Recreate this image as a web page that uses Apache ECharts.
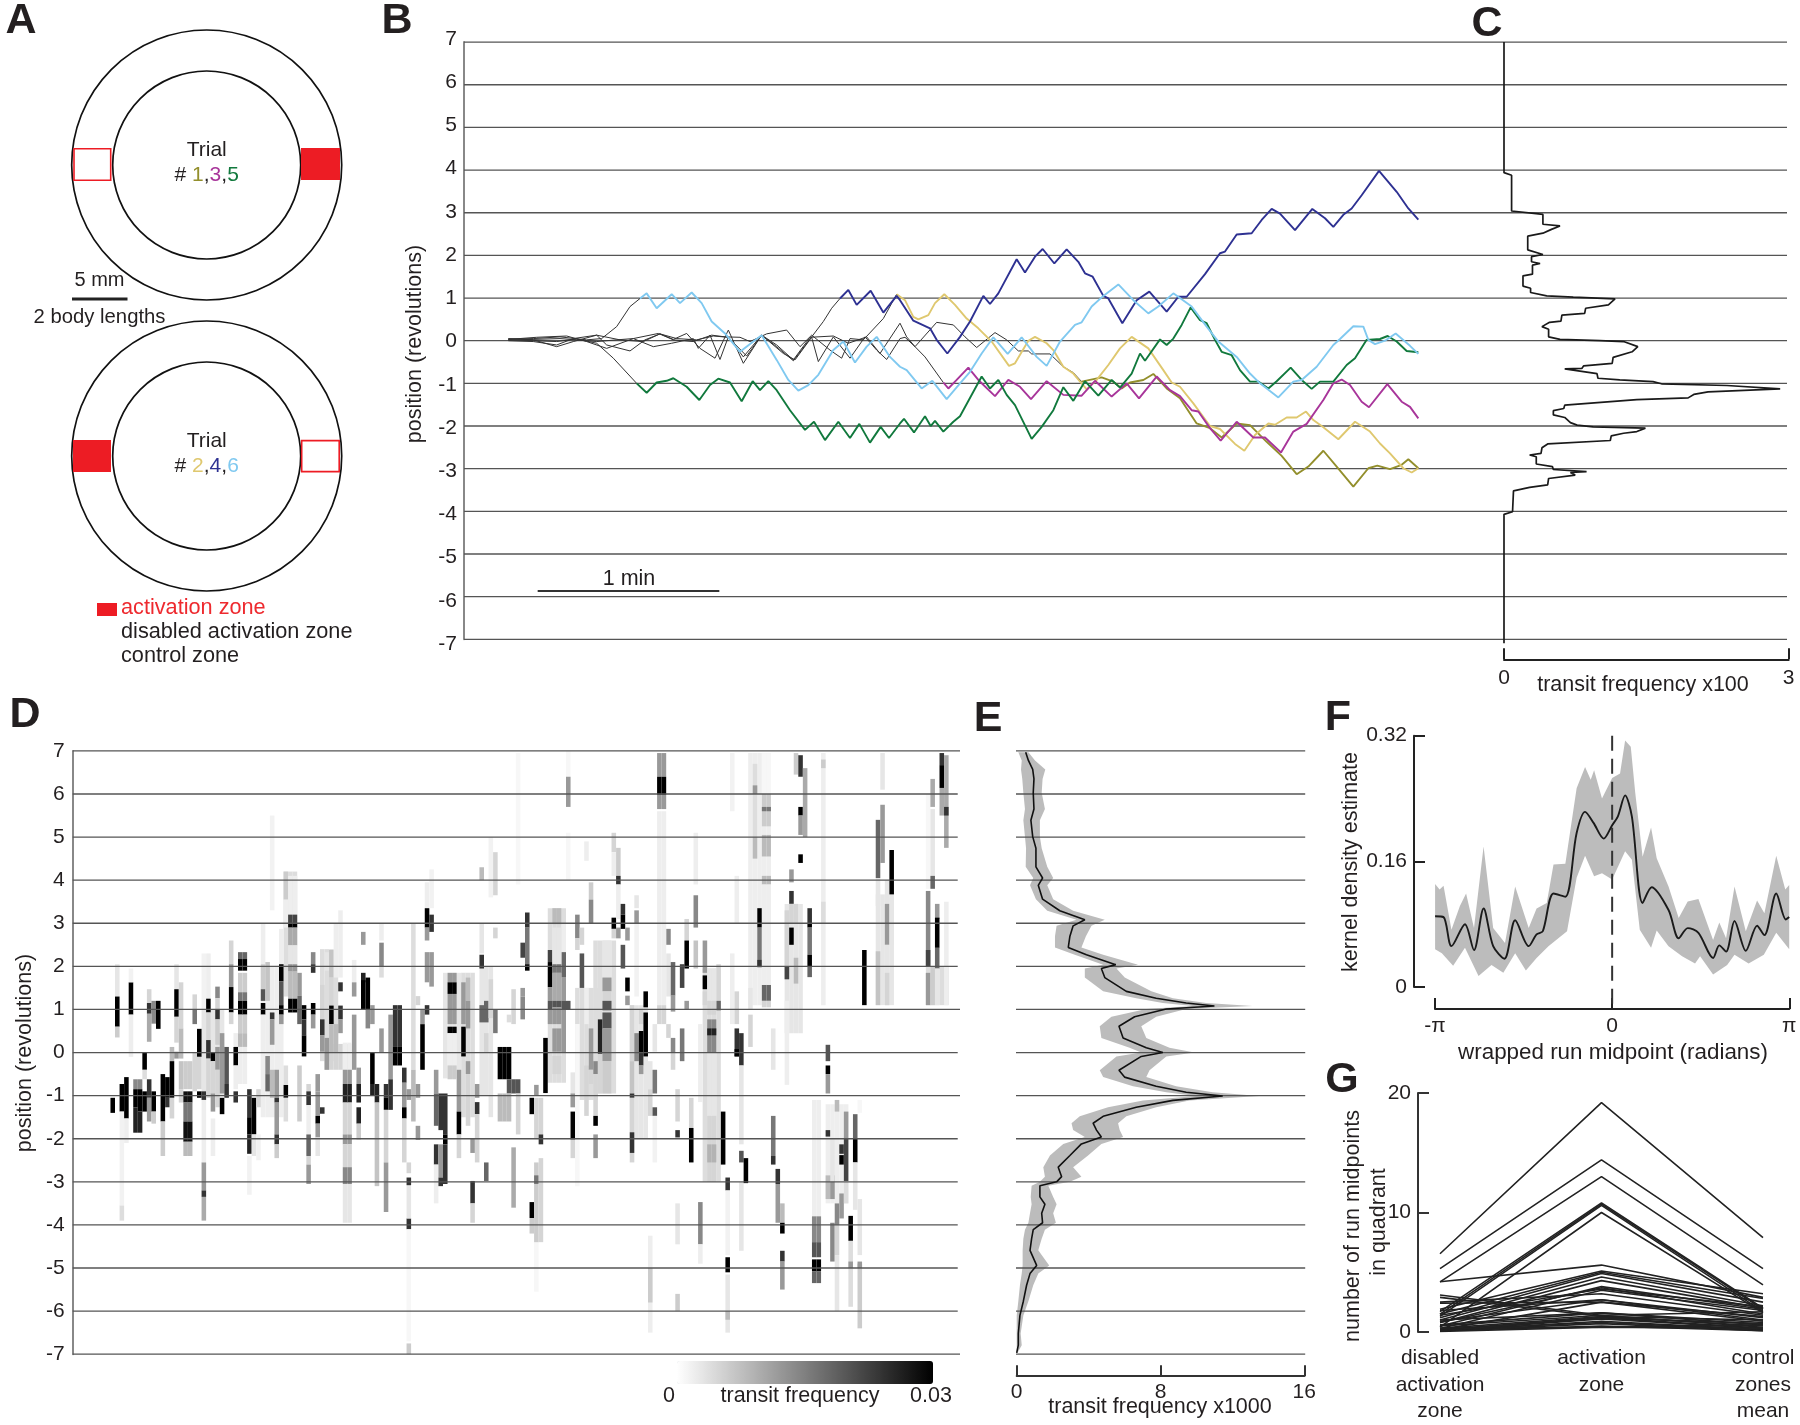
<!DOCTYPE html>
<html><head><meta charset="utf-8">
<style>html,body{margin:0;padding:0;background:#fff}#c{width:1800px;height:1425px}</style>
<script src="https://cdn.jsdelivr.net/npm/echarts@6/dist/echarts.min.js"></script>
</head><body><div id="c"></div>
<script>
// Panel B: time in recording samples (545 samples = 1 min), position in revolutions
const revTicks=[7,6,5,4,3,2,1,0,-1,-2,-3,-4,-5,-6,-7];
const scaleBar=[[89,-5.87],[634,-5.87]];
const trial1Lead=[[1,0],[76,-.02],[146,-.1],[196,.05],[266,.13],[336,.02],[406,-.02],[456,.16],[506,.05],[566,.02],[616,.11],[661,.08],[716,-.36],[761,.13],[806,-.1],[856,-.45],[906,.08],[976,.11],[1021,-.06],[1076,.09],[1116,-.3],[1176,.41],[1196,.09],[1221,-.14],[1286,.43],[1336,.37],[1371,.09],[1406,-.16],[1461,.19],[1496,.02],[1531,-.24],[1561,-.24],[1571,-.31],[1626,-.31],[1666,-.61],[1696,-.75],[1721,-.96]];
const trial1=[[1781,-.86],[1816,-.96],[1841,-1.12],[1866,-.98],[1906,-.92],[1936,-.78],[1976,-1.12],[2016,-1.35],[2066,-1.94],[2106,-2.05],[2141,-2.27],[2186,-1.94],[2226,-1.98],[2276,-2.37],[2321,-2.7],[2366,-3.13],[2401,-2.95],[2446,-2.58],[2486,-2.95],[2536,-3.42],[2581,-2.99],[2608,-2.93],[2646,-3.01],[2681,-2.91],[2701,-2.78],[2731,-2.99]];
const trial2Lead=[[1,.03],[86,.08],[176,.11],[236,-.02],[296,-.18],[376,.05],[451,.17],[496,.02],[556,-.02],[611,.13],[651,.09],[696,.08],[726,-.02],[776,.16],[836,.25],[876,-.14],[911,.13],[966,-.22],[1001,-.41],[1026,.05],[1066,.02],[1126,.52],[1166,1.09]];
const trial2=[[1191,.95],[1216,.56],[1231,.5],[1261,.6],[1281,.88],[1309,1.09],[1341,.84],[1376,.52],[1411,.29],[1451,-.02],[1503,-.59],[1521,-.53],[1561,0],[1581,.09],[1616,-.06],[1636,-.22],[1666,-.61],[1696,-.77],[1736,-1.14],[1766,-.92],[1801,-.57],[1836,-.18],[1871,.09],[1921,-.18],[1966,-.69],[1991,-.98],[2016,-1.08],[2056,-1.47],[2106,-2],[2136,-2.07],[2181,-2.42],[2209,-2.58],[2241,-2.21],[2281,-1.94],[2301,-1.97],[2336,-1.8],[2366,-1.8],[2394,-1.66],[2416,-1.86],[2446,-2.03],[2491,-2.31],[2541,-1.9],[2586,-2.13],[2616,-2.41],[2646,-2.64],[2686,-2.99],[2711,-3.09],[2731,-2.99]];
const trial3Lead=[[1,.02],[76,.03],[156,.05],[206,.02],[266,-.02],[326,.02],[376,.05],[436,-.14],[491,-.06],[556,.05],[571,-.18],[606,.13],[636,-.44],[661,.09],[706,-.38],[761,.13],[826,-.3],[861,-.45],[911,.08],[931,-.49],[976,.09],[1026,-.41],[1071,.09],[1106,-.22],[1136,-.44],[1176,.05],[1191,.08],[1221,-.14],[1251,-.38],[1306,-.98]];
const trial3=[[1321,-1.12],[1346,-.92],[1381,-.63],[1411,-.92],[1461,-1.3],[1501,-.92],[1536,-1.08],[1569,-1.37],[1616,-.95],[1666,-1.27],[1721,-1.29],[1761,-.94],[1811,-1.31],[1856,-1],[1893,-1.35],[1946,-.84],[1986,-1.16],[2016,-1.3],[2051,-1.63],[2071,-1.66],[2106,-2.05],[2138,-2.34],[2186,-1.9],[2236,-2.27],[2271,-2.27],[2319,-2.62],[2356,-2.13],[2396,-1.95],[2446,-1.39],[2476,-1],[2501,-.91],[2526,-1.04],[2561,-1.43],[2583,-1.56],[2638,-1.02],[2681,-1.43],[2706,-1.55],[2731,-1.82]];
const trial4Lead=[[1,.05],[76,.02],[146,-.14],[196,-.02],[266,.13],[296,-.1],[366,-.24],[411,.02],[456,.16],[496,.03],[536,.17],[576,-.18],[621,-.41],[661,.25],[706,-.53],[761,.13],[806,-.14],[856,-.47],[911,.09],[946,.45],[971,.76],[996,.99]];
const trial4=[[1021,1.19],[1046,.84],[1088,1.17],[1126,.66],[1166,1.05],[1176,.95],[1216,.47],[1266,.29],[1286,.02],[1318,-.3],[1356,.09],[1386,.45],[1426,1.05],[1446,.86],[1471,1.11],[1526,1.91],[1551,1.6],[1581,1.97],[1604,2.15],[1639,1.81],[1676,2.14],[1711,1.85],[1731,1.58],[1754,1.5],[1786,1.05],[1801,.99],[1843,.41],[1886,.95],[1924,1.15],[1976,.68],[2011,1.03],[2036,1.03],[2091,1.56],[2136,2.05],[2151,2.09],[2186,2.49],[2231,2.52],[2261,2.83],[2291,3.09],[2316,2.98],[2361,2.59],[2413,3.09],[2451,2.87],[2476,2.67],[2506,2.95],[2531,3.1],[2561,3.41],[2613,3.98],[2666,3.49],[2701,3.1],[2731,2.84]];
const trial5Lead=[[1,.02],[76,0],[146,-.02],[206,.04],[266,-.06],[316,-.41],[386,-1]];
const trial5=[[416,-1.22],[446,-.98],[476,-.94],[496,-.88],[536,-1.08],[574,-1.39],[606,-1.04],[631,-.89],[666,-.98],[701,-1.42],[734,-.95],[756,-1.16],[781,-.95],[806,-1.16],[846,-1.63],[891,-2.09],[918,-1.9],[951,-2.33],[991,-1.9],[1026,-2.28],[1054,-1.95],[1086,-2.39],[1118,-2.02],[1143,-2.28],[1176,-1.94],[1188,-1.83],[1218,-2.15],[1251,-1.77],[1268,-2],[1281,-1.88],[1306,-2.13],[1336,-1.9],[1356,-1.77],[1421,-.84],[1446,-1.12],[1471,-.92],[1496,-1.27],[1521,-1.51],[1571,-2.3],[1601,-2.02],[1636,-1.63],[1666,-1.09],[1696,-1.41],[1731,-.95],[1771,-1.29],[1811,-.92],[1836,-1.1],[1871,-.77],[1896,-.3],[1911,-.47],[1956,.03],[1976,-.1],[1996,.05],[2021,.37],[2048,.78],[2076,.48],[2096,.41],[2121,.02],[2141,-.26],[2171,-.34],[2196,-.69],[2226,-.96],[2251,-.96],[2281,-1.12],[2306,-.95],[2348,-.63],[2381,-.92],[2411,-1.13],[2436,-.96],[2476,-.96],[2516,-.57],[2541,-.41],[2576,.02],[2616,.04],[2639,.11],[2666,-.02],[2696,-.24],[2731,-.27]];
const trial6Lead=[[1,.04],[76,.05],[156,.09],[236,.02],[281,.05],[326,.33],[366,.8],[396,.99]];
const trial6=[[416,1.11],[446,.76],[491,1.09],[516,.88],[551,1.13],[581,.88],[611,.45],[651,.17],[696,-.26],[736,-.02],[761,.13],[806,-.45],[841,-.92],[871,-1.17],[901,-1.04],[931,-.8],[976,-.22],[1006,-.02],[1041,-.51],[1076,-.14],[1106,.09],[1146,-.38],[1176,-.61],[1196,-.69],[1241,-1.12],[1273,-.94],[1316,-1.37],[1356,-1],[1386,-.73],[1421,-.3],[1456,.08],[1499,-.31],[1541,.08],[1586,-.38],[1616,-.59],[1656,-.02],[1701,.37],[1721,.43],[1751,.8],[1786,1.05],[1831,1.32],[1876,.95],[1921,.64],[1951,.8],[1996,1.11],[2051,.8],[2096,.33],[2131,-.02],[2186,-.38],[2226,-.77],[2256,-1],[2311,-1.33],[2356,-.96],[2381,-.92],[2426,-.61],[2476,-.1],[2496,.04],[2536,.34],[2566,.33],[2581,.02],[2601,-.08],[2631,0],[2663,.17],[2706,-.12],[2731,-.31]];
// Panel C: transit frequency x100 against position
const transitC=[[0,7],[0,3.94],[.08,3.88],[.08,3.04],[.41,2.96],[.41,2.73],[.59,2.69],[.5,2.61],[.41,2.52],[.25,2.45],[.25,2.13],[.41,2.02],[.29,1.97],[.29,1.85],[.38,1.81],[.3,1.77],[.3,1.56],[.2,1.52],[.2,1.28],[.28,1.23],[.28,1.13],[.45,1.05],[.73,1.02],[1.17,.98],[1.1,.84],[.86,.76],[.85,.64],[.61,.6],[.6,.46],[.48,.43],[.47,.39],[.4,.33],[.47,.27],[.47,.09],[.59,.03],[1.01,0],[1.26,-.02],[1.41,-.14],[1.35,-.26],[1.15,-.39],[1.14,-.53],[.84,-.59],[.82,-.65],[.64,-.66],[.98,-.77],[.99,-.88],[1.22,-.92],[1.57,-.96],[1.66,-1.01],[2.35,-1.05],[2.91,-1.13],[2.15,-1.2],[2,-1.26],[1.94,-1.34],[1.4,-1.38],[.64,-1.51],[.63,-1.59],[.52,-1.64],[.52,-1.74],[.64,-1.8],[.7,-1.92],[.77,-1.98],[.94,-2.02],[1.49,-2.05],[1.4,-2.13],[1.26,-2.17],[1.13,-2.23],[1.12,-2.34],[.46,-2.42],[.4,-2.51],[.39,-2.64],[.27,-2.68],[.34,-2.72],[.34,-2.89],[.51,-2.95],[.52,-3.02],[.87,-3.07],[.7,-3.09],[.75,-3.15],[.47,-3.23],[.46,-3.38],[.27,-3.44],[.27,-3.48],[.1,-3.52],[.09,-4.01],[0,-4.07],[0,-7.09]];
// Panel D: pale backgrounds [first column, last column, position low, position high, transit frequency]
const paleBlocks=[[55,58,-.2,2.4,.004],[56,61,-.4,.2,.005],[47,49,1.3,4.2,.004],[82,85,-.6,1.85,.003],[86,88,-1.5,1.85,.004],[90,92,-1,2,.003],[105,108,-.7,3.35,.004],[111,115,-1.1,1.5,.004],[115,119,-.95,2.6,.004],[123,126,-2,1.1,.003],[139,142,-3,1.95,.004],[157,160,.45,3.45,.003],[149,153,1.1,6.95,.002],[166,170,-3.5,-1.2,.002],[177,180,1.1,3.67,.003],[188,192,1.1,2,.004],[29,33,-1,1,.003],[42,46,-1.5,2,.002]];
// Panel D: [fly column, position low, position high, transit frequency]
const heatCells=[[9,-1.4,-1.05,.03],[10,1.3,2.05,.003],[10,.6,1.3,.03],[10,.35,.6,.006],[11,-1.37,-.73,.03],[11,-3.55,-1.37,.0015],[11,-3.9,-3.55,.004],[12,-1.53,-.57,.03],[12,-2.1,-1.53,.002],[13,.88,1.63,.03],[13,-.1,.88,.002],[13,1.63,1.95,.0015],[14,-.85,-.62,.014],[14,-1.27,-.85,.03],[14,-1.86,-1.27,.026],[15,-.85,-.62,.014],[15,-1.37,-.85,.03],[15,-1.86,-1.37,.026],[16,-.4,0,.03],[16,-.62,-.4,.004],[16,-1.37,-.9,.03],[17,1.15,1.47,.005],[17,.9,1.15,.024],[17,.25,.9,.01],[17,-1.05,-.62,.024],[17,-1.6,-1.05,.012],[18,.67,1.2,.014],[18,-1.37,-.9,.03],[18,-1.65,-1.37,.006],[19,.55,1.2,.03],[20,-1.6,-.5,.03],[20,-2.4,-1.6,.006],[21,-1.05,-.57,.03],[21,-1.27,-1.05,.024],[22,-.2,.13,.008],[22,-1.05,-.2,.03],[22,-1.53,-1.05,.005],[23,1.47,2.05,.003],[23,.83,1.47,.03],[23,.23,.83,.005],[23,-.14,.02,.012],[24,.56,1.63,.005],[24,-.14,.56,.008],[24,-.85,-.2,.007],[24,-1.16,-.85,.005],[25,-.85,-.2,.006],[25,-1.16,-.9,.028],[25,-1.6,-1.16,.016],[25,-2.07,-1.6,.028],[25,-2.4,-2.07,.008],[27,1,1.35,.005],[27,.66,1,.016],[27,-.9,0,.005],[28,-.1,.55,.03],[28,-.85,-.1,.005],[28,-1.05,-.9,.03],[29,1,2.3,.0015],[29,-1.1,-.9,.024],[29,-2.55,-1.1,.002],[29,-3.2,-2.55,.012],[29,-3.35,-3.2,.024],[29,-3.9,-3.35,.01],[30,1.25,2.3,.002],[30,.93,1.25,.03],[30,.29,.93,.005],[30,-.14,.29,.024],[30,-1.05,-.14,.005],[31,-.2,0,.03],[31,-.95,-.2,.005],[31,-1.37,-.95,.012],[31,-2.4,-1.53,.002],[32,1.26,1.53,.014],[32,1,1.26,.005],[32,.77,1,.024],[32,.18,.77,.006],[32,-.4,.13,.012],[32,-1.27,-.4,.005],[33,-.95,.45,.012],[33,-1.43,-1.05,.03],[34,-.73,.13,.02],[34,-1.05,-.73,.024],[35,2.05,2.6,.005],[35,1.52,2.05,.012],[35,.93,1.52,.03],[35,.66,.93,.005],[36,.13,.45,.002],[36,-.3,.13,.03],[36,-.85,-.3,.002],[36,-1.16,-.9,.024],[37,2.17,2.33,.018],[37,1.9,2.17,.03],[37,1.4,1.85,.006],[37,1.2,1.4,.016],[37,.88,1.2,.03],[37,.45,.88,.006],[37,.13,.45,.008],[37,-.73,.13,.002],[39,-1,-.85,.024],[39,-1.5,-1,.024],[39,-1.9,-1.5,.03],[39,-2.35,-1.9,.026],[39,-3.3,-2.4,.0015],[40,-1.9,-1.05,.03],[40,-2.4,-1.9,.003],[41,-1.27,-.85,.005],[41,-2.5,-1.9,.0015],[42,2.05,3,.002],[42,1.47,2.05,.006],[42,1.2,1.47,.02],[42,.88,1.15,.03],[42,-.4,.88,.002],[43,1.2,2.1,.007],[43,-.5,-.08,.014],[43,-.9,-.5,.018],[44,3.3,5.5,.0015],[44,.77,.93,.024],[44,.18,.77,.012],[44,-1.05,-.4,.008],[45,-1.05,-.4,.012],[45,-1.16,-1.05,.024],[45,-1.9,-1.16,.012],[45,-2.13,-1.9,.024],[45,-2.45,-2.13,.006],[46,2.05,2.87,.002],[46,1.65,2.05,.03],[46,1.1,1.65,.02],[46,.88,1.1,.03],[46,.66,.88,.012],[47,3.55,4.2,.006],[47,2.9,3.55,.002],[47,-1.05,-.75,.03],[47,-.75,-.3,.004],[47,-1.6,-1.05,.004],[48,3.2,4.1,.002],[48,3,3.2,.022],[48,2.9,3,.03],[48,2.49,2.9,.01],[48,2.05,2.49,.003],[48,1.88,2.05,.012],[48,1.25,1.88,.008],[48,.93,1.25,.03],[50,1.32,1.85,.012],[50,.66,1.32,.018],[50,-1.6,-.3,.006],[51,.77,1.1,.03],[51,.4,.77,.024],[51,-.09,.4,.03],[52,-.9,-.73,.005],[52,-1.22,-.9,.024],[52,-1.9,-1.22,.002],[52,-2.4,-1.9,.018],[52,-2.6,-2.4,.005],[52,-3.05,-2.6,.012],[53,2.05,2.33,.014],[53,1.85,2.05,.024],[53,.88,1.15,.03],[53,.56,.88,.012],[54,-.9,-.5,.012],[54,-1.47,-.9,.012],[54,-1.65,-1.47,.03],[54,-1.97,-1.65,.012],[54,-2.4,-1.97,.003],[55,.77,1.57,.005],[55,.4,.77,.024],[55,.02,.4,.012],[55,-1.42,-1.27,.024],[56,1.9,2.33,.003],[56,-.4,.34,.012],[57,1.74,2.38,.007],[57,1.09,1.74,.005],[57,.66,1.09,.03],[57,0,.66,.008],[58,1.74,3,.002],[58,0,.66,.008],[59,1.74,3.3,.002],[59,1.42,1.63,.024],[59,.77,1.09,.024],[59,.45,.77,.012],[60,-.4,.23,.002],[60,-.73,-.4,.012],[60,-1.16,-.73,.026],[60,-1.9,-1.16,.005],[60,-2.13,-1.9,.012],[60,-2.66,-2.13,.005],[60,-3.05,-2.66,.014],[60,-3.95,-3.05,.003],[62,1.63,2.15,.002],[62,1.3,1.63,.012],[62,-.4,.88,.012],[63,-.73,-.35,.012],[63,-1.16,-.73,.026],[63,-1.65,-1.27,.026],[63,-2.02,-1.65,.006],[64,2.5,2.8,.012],[64,1.63,1.85,.026],[64,1,1.68,.03],[65,1,1.74,.03],[65,.56,1,.014],[66,.66,1.1,.012],[66,-.73,0,.03],[66,-1,-.73,.026],[67,-1.16,-.73,.026],[67,-3.1,-1.16,.007],[68,2.6,3,.002],[68,2,2.55,.014],[68,1.74,2,.004],[68,0,.56,.012],[69,-1.05,-.73,.024],[69,-1.33,-1.05,.03],[69,-2.55,-1.33,.005],[69,-3.7,-2.55,.012],[70,-.62,.88,.012],[70,-1.33,-.62,.024],[71,.13,1.1,.024],[71,-.3,.13,.03],[73,-.7,-.35,.024],[73,-1.27,-.7,.012],[73,-1.53,-1.27,.03],[73,-2.55,-1.53,.005],[74,-1.1,-.85,.012],[74,-2.8,-2.55,.005],[74,-3.08,-2.9,.024],[74,-4.1,-3.85,.024],[74,-6.7,-4.1,.001],[74,-7,-6.75,.006],[74,-3.85,-3.1,.003],[75,-.4,3,.004],[75,-1.6,-.4,.008],[76,1.1,1.31,.005],[76,-1.05,-.73,.012],[76,-2.03,-1.7,.012],[77,-.4,.66,.03],[77,.66,1,.012],[78,3.35,3.95,.002],[78,2.9,3.35,.03],[78,2.6,2.9,.012],[78,1.63,2.33,.012],[78,.88,1.1,.024],[79,3.35,4.25,.0015],[79,2.8,3.2,.024],[79,1.53,2.33,.012],[80,-.95,-.4,.012],[80,-1.7,-.95,.018],[80,-2.6,-2.13,.024],[80,-3.5,-2.6,.002],[81,-1.8,-.95,.024],[81,-2.9,-2.13,.012],[81,-3.1,-2.9,.024],[82,-1.9,-.95,.024],[82,-2.13,-1.9,.03],[82,-3.05,-2.13,.024],[83,1.63,1.85,.012],[83,1.36,1.63,.03],[83,.66,1.36,.012],[83,.45,.6,.03],[83,-.3,.45,.002],[83,-.62,-.3,.006],[85,-1.37,-.4,.012],[85,-1.9,-1.37,.03],[85,-2.45,-1.9,.005],[86,.66,1.63,.012],[86,-.09,.6,.03],[87,1.2,1.74,.008],[87,.56,1.2,.012],[87,-.5,-.2,.012],[87,-1.7,-.5,.005],[88,-2.33,-2,.012],[88,-3.5,-2.98,.024],[88,-3.95,-3.5,.005],[89,-1.05,-.73,.012],[89,-1.43,-1.15,.024],[89,-2.55,-1.43,.005],[90,4,4.3,.008],[90,2.3,3,.003],[90,1.95,2.27,.024],[90,.7,1.1,.018],[91,.7,1.2,.018],[91,-2.98,-2.55,.018],[91,0,.45,.005],[92,.8,1.7,.005],[92,-1.5,-.1,.003],[92,3.6,5,.0015],[93,3.65,4.65,.005],[93,2.65,2.9,.005],[93,.45,1,.016],[94,-.62,.13,.03],[95,-.62,.13,.03],[96,-.62,.13,.03],[94,-1.6,-.95,.008],[95,-1.6,-.95,.008],[96,-.95,-.62,.02],[96,-1.6,-.95,.008],[97,-.95,-.62,.02],[98,-.95,-.62,.02],[96,.7,.88,.004],[97,.66,1.47,.005],[97,-3.6,-2.2,.01],[98,3.9,6.95,.001],[98,-1.9,-.95,.005],[99,2.2,2.55,.022],[99,1.3,1.5,.012],[99,.77,1.3,.014],[100,2.9,3.25,.024],[100,2.05,2.9,.016],[100,1.9,2.05,.03],[101,-1.43,-1.05,.03],[101,-3.84,-3.47,.03],[101,-4.2,-3.84,.006],[102,-1,-.75,.012],[102,-2,-1.05,.005],[102,-5.55,-4.2,.001],[102,-4.4,-2.55,.006],[102,-3.05,-2.85,.016],[103,-1.9,-1.05,.005],[103,-2.13,-1.9,.024],[103,-4.4,-2.45,.005],[104,-.94,.34,.03],[105,2.1,2.38,.022],[105,1.52,2.1,.03],[105,1.2,1.52,.012],[105,1,1.2,.02],[105,.66,1,.012],[106,2.98,3.35,.008],[106,2,2.9,.003],[106,1.85,2.05,.016],[106,1.2,1.85,.01],[106,1.05,1.2,.02],[106,.66,1.05,.012],[106,.02,.56,.012],[106,-.5,-.08,.005],[108,2.33,3,.002],[108,1.74,2.33,.018],[108,1.2,1.74,.012],[108,1,1.2,.02],[108,0,1,.012],[109,6,7,.001],[109,5.7,6.4,.012],[109,4,5.1,.001],[109,1,1.2,.02],[110,-1.27,-.46,.003],[110,-1.27,-.95,.012],[110,-2.02,-1.37,.03],[110,-2.45,-2.02,.005],[111,2.65,3.2,.014],[111,2.38,2.65,.005],[111,-3.1,.66,.001],[112,2.5,2.9,.005],[112,1.5,2.3,.02],[113,4.45,4.9,.002],[113,.66,1.5,.002],[113,-1.47,-.3,.005],[114,3.55,3.95,.006],[114,3,3.55,.014],[114,-.4,.56,.012],[114,-.73,-.4,.005],[115,-.5,-.2,.014],[115,-1.47,-.5,.005],[115,-1.7,-1.47,.03],[115,-2.45,-1.9,.012],[116,-.03,.77,.026],[116,-.95,-.03,.005],[117,1.74,2.6,.003],[117,1.42,1.74,.012],[117,1.2,1.42,.005],[117,.98,1.2,.02],[117,.56,.93,.02],[117,-.2,.56,.012],[117,-.95,-.2,.006],[119,4.65,5.1,.005],[119,4.1,4.65,.002],[119,2.87,3.13,.03],[119,2.65,2.87,.005],[120,4.1,4.75,.006],[120,3.9,4.1,.024],[120,3.1,3.9,.002],[120,2.65,2.9,.012],[121,3.2,3.45,.024],[121,2.87,3.2,.03],[121,1.95,2.5,.02],[122,2.6,2.9,.012],[122,1.42,1.74,.03],[122,1.1,1.32,.012],[123,-.2,1.1,.005],[123,-.95,-.2,.007],[123,-1.05,-.95,.024],[123,-1.85,-1.05,.005],[123,-2.33,-1.85,.024],[123,-2.55,-2.33,.005],[124,3.35,3.65,.003],[124,3,3.3,.012],[124,1.3,3,.0015],[124,-.2,.45,.014],[125,.66,1,.005],[125,0,.5,.03],[125,-.3,0,.024],[125,-.5,-.3,.012],[126,1.05,1.42,.03],[126,-.09,.93,.03],[127,-.85,-.2,.003],[127,-1.47,-.85,.005],[127,-6.5,-4.25,.002],[127,-5.8,-5,.006],[128,-.95,-.4,.016],[128,-1.47,-1.27,.02],[128,-2.55,-1.47,.0015],[128,.02,.66,.003],[129,6.4,6.95,.012],[129,5.98,6.4,.03],[129,5.65,5.98,.012],[129,1.1,5.6,.002],[129,.66,1.1,.005],[131,2.5,2.87,.014],[131,1.3,2.3,.003],[131,.34,.66,.005],[132,1.32,2.1,.018],[132,.95,1.32,.012],[132,0,.34,.014],[132,-.4,0,.005],[133,-1.6,-.85,.005],[133,-1.97,-1.8,.024],[133,-4.45,-3.5,.003],[133,-6,-5.6,.006],[134,1.5,2.05,.022],[134,-.2,.56,.016],[135,2.6,3.1,.005],[135,1.95,2.6,.03],[135,1,1.2,.012],[136,-1.75,-1.05,.005],[136,-2.55,-1.75,.03],[137,3.9,5.1,.002],[137,2.9,3.65,.014],[137,1.95,2.6,.007],[138,-1.15,.66,.002],[138,-4.45,-3.47,.014],[138,-4.9,-4.45,.002],[139,1.85,2.6,.012],[139,1.47,1.79,.03],[139,1.1,1.42,.005],[140,1.2,1.95,.003],[140,.88,1.2,.005],[140,0,.77,.014],[140,.4,.56,.026],[140,-1.47,0,.003],[140,-3,-1.47,.005],[140,-2.55,-2.13,.009],[142,1.2,2.05,.005],[142,.98,1.2,.018],[143,-2.6,-1.37,.03],[144,-3.2,-2.9,.024],[144,-4.7,-3.2,.0015],[144,-5.1,-4.75,.03],[144,-6.5,-5.15,.003],[144,-6.2,-6,.008],[145,5.6,6.95,.0015],[145,.66,2.3,.002],[146,-.09,.56,.024],[146,-.09,.08,.03],[146,.66,1.42,.005],[146,3,4.1,.002],[147,-.3,.45,.024],[147,-2.13,-.3,.003],[147,-2.55,-2.28,.02],[147,-4.6,-3,.003],[148,-3.03,-2.45,.03],[149,.13,.88,.005],[149,1,1.5,.003],[150,5,6.7,.004],[150,6,6.2,.012],[150,4.5,5,.008],[151,2.9,3.35,.03],[151,2,2.9,.016],[151,1.98,2.15,.024],[152,6,6.95,.001],[152,5.25,6,.006],[152,5.6,5.7,.016],[152,4.55,5.05,.008],[152,3.9,4.1,.008],[152,1.2,1.57,.018],[152,1.05,1.2,.005],[152,1.57,3.9,.002],[154,-.4,.56,.003],[154,-2.4,-1.47,.016],[154,-2.6,-2.4,.024],[155,-3.05,-2.7,.024],[155,-3.95,-3.05,.012],[156,-3.95,-3.5,.008],[156,-4.2,-3.95,.03],[156,-4.85,-4.6,.024],[156,-5.5,-4.85,.012],[157,1.7,3.3,.005],[157,1.7,2,.022],[157,-.75,1.2,.002],[158,3.95,4.25,.012],[158,3.45,3.75,.024],[158,3,3.45,.005],[158,2.5,2.9,.03],[159,6.45,6.95,.006],[159,3,3.45,.005],[159,1.6,2.2,.008],[160,6.4,6.9,.024],[160,5.5,5.7,.03],[160,5.05,5.5,.012],[160,4.4,4.6,.03],[161,5,6.6,.01],[162,3,3.35,.024],[162,2.9,3,.03],[162,2.27,2.9,.016],[162,2,2.27,.03],[162,1.75,2,.018],[163,-3.8,-1.1,.002],[163,-4.4,-3.8,.014],[163,-4.75,-4.4,.02],[163,-5.08,-4.8,.03],[163,-5.35,-5.08,.018],[165,1.1,6.95,.002],[165,6.6,6.8,.006],[165,3,3.5,.004],[166,-.2,.18,.02],[166,-.5,-.3,.03],[166,-.95,-.5,.012],[166,-1.95,-1.8,.024],[166,-3.4,-2.85,.008],[167,-3.4,-2.85,.012],[167,-4.85,-3.95,.014],[167,-3,-2,.003],[168,-1.37,-1.1,.008],[168,-4,-3.5,.014],[168,-4.7,-4,.005],[168,-6,-4.7,.003],[169,-2.35,-2.13,.024],[169,-2.6,-2.38,.03],[169,-3.85,-3.27,.012],[170,-2,-1.37,.012],[170,-2.98,-2,.022],[170,-3.5,-3,.004],[171,-4.37,-3.79,.03],[171,-5.9,-4.37,.004],[171,-5,-4.85,.012],[172,-2,-1.43,.018],[172,-2.55,-2,.03],[172,-3.65,-2.55,.003],[173,-4.7,-3.4,.003],[173,-6.4,-4.9,.006],[173,-5,-4.85,.012],[173,-1.4,-1.1,.001],[174,1.1,2.38,.03],[177,1.1,2.35,.007],[177,4.05,5.4,.018],[177,3.4,4.05,.003],[178,4.4,5.75,.012],[178,6.1,6.95,.003],[179,2.5,3.45,.012],[179,1.1,2.5,.003],[179,1.1,1.85,.005],[179,3.5,4,.003],[180,3.67,4.7,.03],[180,2.5,3.6,.003],[188,2,3.75,.014],[188,2,2.38,.022],[188,1.1,1.85,.012],[188,3.8,6,.001],[189,5.7,6.35,.01],[189,4.1,5.65,.003],[189,3.8,4.1,.018],[189,1.1,2,.006],[190,3.1,3.45,.012],[190,2.43,3.13,.03],[190,1.95,2.43,.018],[190,1.1,1.95,.003],[191,6.67,6.95,.024],[191,6.14,6.67,.03],[191,5.5,6.14,.01],[192,4.75,6.9,.01],[192,5.5,5.7,.024],[192,1.1,3.5,.002]];
const twinColumns=[[25,26],[37,38],[48,49],[60,61],[71,72],[83,84],[106,107],[117,118],[129,130],[140,141],[152,153],[163,164]];
// Panel E
const eRev=[6.97,6.78,6.57,6.35,6.03,5.65,5.39,5.01,4.74,4.31,4.05,3.88,3.56,3.29,3.08,2.94,2.7,2.44,2.27,2.04,1.95,1.74,1.42,1.26,1.15,1.08,1.01,.83,.61,.34,.11,0,-.09,-.41,-.57,-.78,-.92,-1.01,-1.11,-1.27,-1.48,-1.64,-1.8,-1.96,-2.12,-2.39,-2.66,-2.88,-3,-3.09,-3.35,-3.52,-3.73,-3.95,-4.11,-4.32,-4.59,-4.94,-5.13,-5.4,-5.77,-6.1,-6.52,-6.79,-6.97];
const eMean=[.5,.65,.89,.96,.92,.96,.79,.89,1.07,1.07,1.44,1.2,1.44,2.4,3.79,3.14,2.96,2.87,3.88,5.51,4.71,4.9,6.1,7.76,9.43,11,8.32,6.56,5.69,5.92,7.21,8.13,6.93,5.69,6,7.76,9.43,11.46,8.69,6.65,4.81,4.25,4.44,4.71,3.6,2.96,2.31,2.5,2.22,1.29,1.29,1.57,1.39,1.44,.92,.83,.74,1.11,.74,.55,.37,.18,.09,.09,0];
const eLow=[.09,.28,.24,.31,.37,.46,.37,.46,.52,.5,.92,.74,1.07,1.7,3.33,2.22,2.13,2.13,3.23,4.81,3.79,3.79,4.81,6.65,8.13,9.8,7.21,5.27,4.62,4.71,6.28,6.93,5.55,4.62,4.81,6.47,8.32,9.98,7.03,5.08,3.51,3.05,3.14,3.79,2.59,1.85,1.48,1.57,1.29,.83,.78,.83,.74,.65,.46,.37,.33,.33,.28,.18,.09,0,0,0,0];
const eHigh=[.65,1.02,1.59,1.44,1.39,1.57,1.29,1.29,1.39,1.7,2.03,1.7,2.03,3.14,4.9,4.16,3.85,3.6,4.81,6.75,5.55,6.01,7.49,8.69,10.54,13.12,9.43,7.76,6.93,7.21,8.5,9.89,8.32,7.39,7.21,8.87,10.9,13.5,9.61,7.76,6.1,5.64,5.73,5.92,4.71,3.97,3.14,3.6,2.96,1.76,2.03,2.22,2.03,2.18,1.57,1.39,1.2,1.81,1.2,.92,.65,.37,.22,.28,.04];
// Panel F: wrapped midpoint (radians), density
const fMean=[[-3.14,.09],[-2.99,.089],[-2.85,.052],[-2.61,.08],[-2.45,.047],[-2.28,.1],[-2.11,.052],[-1.91,.036],[-1.72,.085],[-1.48,.052],[-1.34,.067],[-1.23,.071],[-1.04,.119],[-.83,.115],[-.63,.196],[-.48,.223],[-.33,.209],[-.15,.189],[0,.206],[.1,.217],[.23,.244],[.35,.217],[.54,.107],[.7,.127],[1,.098],[1.18,.062],[1.34,.075],[1.53,.069],[1.79,.037],[1.9,.053],[2.02,.045],[2.17,.084],[2.37,.046],[2.57,.078],[2.7,.066],[2.91,.119],[3.08,.086],[3.14,.089]];
const fUpper=[[-3.14,.131],[-3.06,.124],[-2.99,.129],[-2.85,.073],[-2.7,.103],[-2.59,.119],[-2.45,.075],[-2.28,.179],[-2.11,.075],[-1.9,.056],[-1.72,.128],[-1.48,.075],[-1.34,.1],[-1.16,.107],[-1.04,.156],[-.83,.157],[-.63,.253],[-.48,.28],[-.38,.264],[-.32,.276],[-.18,.24],[0,.266],[.14,.272],[.23,.314],[.33,.306],[.41,.247],[.54,.166],[.69,.203],[.79,.164],[1,.128],[1.18,.088],[1.34,.109],[1.53,.112],[1.79,.06],[1.9,.082],[2.02,.062],[2.17,.128],[2.37,.071],[2.57,.11],[2.7,.094],[2.91,.167],[3.07,.124],[3.14,.13]];
const fLower=[[-3.14,.048],[-3.02,.043],[-2.82,.027],[-2.61,.05],[-2.37,.014],[-2.14,.028],[-1.93,.018],[-1.72,.043],[-1.53,.021],[-1.34,.037],[-1.13,.052],[-.8,.071],[-.63,.139],[-.48,.167],[-.32,.141],[-.18,.145],[0,.137],[.23,.173],[.35,.162],[.49,.073],[.69,.05],[.79,.072],[1,.052],[1.24,.039],[1.47,.03],[1.56,.039],[1.79,.016],[2.04,.028],[2.17,.041],[2.42,.03],[2.69,.041],[2.91,.069],[3.14,.048]];
// Panel G: midpoints per fly in [disabled, activation, control mean]
const gCategories=['disabled\nactivation\nzone','activation\nzone','control\nzones\nmean'];
const gFlies=[[6.55,19.2,7.9],[5.3,14.4,5.3],[4.2,13,3.95],[1.7,10.8,2],[1.5,10.7,1.9],[1.3,10.6,1.7],[.4,10,1.6],[4.2,5.6,2.9],[1.9,5.1,3.2],[1.5,5,2.8],[1.2,4.9,2.5],[1,4.6,2.2],[.8,4.3,2],[.5,3.8,1.9],[.8,3.7,1.5],[1.4,3.6,2.1],[.3,3.5,1.8],[2.5,3.2,1.4],[1.8,2.7,1.2],[.9,2.7,1],[3.1,1.4,1.7],[2.9,1.3,1],[2.4,2.5,.9],[.2,2.5,1.3],[1,1.6,.8],[.6,1.6,.6],[.5,1.4,.4],[.3,1.3,.5],[.2,1.2,.3],[.1,1.1,.3],[.1,.9,.2],[.2,.8,.2],[.1,.7,.1],[.1,.5,.1],[.05,.4,.3],[.3,.4,.6],[.1,1.2,.7]];

const FONT='"Liberation Sans", Arial, sans-serif', INK='#231f20', GRID='#555';
const C_OLIVE='#938f2c',C_MAGENTA='#a8359a',C_GREEN='#11793d',C_YELLOW='#dfc86f',C_NAVY='#2e3192',C_SKY='#80c9f0',C_RED='#ed1c24';

const allCells=[];
paleBlocks.forEach(([a,b,lo,hi,v])=>{for(let c=a;c<=b;c++)allCells.push([c,lo,hi,v]);});
heatCells.forEach(r=>allCells.push(r));
twinColumns.forEach(([a,b])=>heatCells.filter(r=>r[0]===a).forEach(r=>allCells.push([b,r[1],r[2],r[3]])));

const series=[];
function gridLine(g,x0,x1,t,z){series.push({type:'line',xAxisIndex:g,yAxisIndex:g,data:[[x0,t],[x1,t]],symbol:'none',silent:true,clip:false,z:z,lineStyle:{color:GRID,width:1.3}});}
revTicks.forEach(t=>gridLine(0,-132,3837,t,1));
// heat map
series.push({type:'custom',xAxisIndex:2,yAxisIndex:2,data:allCells,z:2,progressive:0,encode:{x:0,y:[1,2]},
 renderItem(p,api){const c=api.value(0),a=api.coord([c-.5,api.value(2)]),b=api.coord([c+.5,api.value(1)]);
  return {type:'rect',shape:{x:a[0],y:a[1],width:b[0]-a[0],height:b[1]-a[1]},style:{fill:api.visual('color')}};}});
revTicks.forEach(t=>gridLine(2,.21,Math.abs(t)===7||Math.abs(t)===1?195:194.5,t,3));
// E band, gridlines, mean
series.push({type:'custom',xAxisIndex:3,yAxisIndex:3,data:[0],z:2,silent:true,
 renderItem(p,api){const pts=eRev.map((r,i)=>api.coord([eLow[i],r])).concat(eRev.map((r,i)=>api.coord([eHigh[i],r])).reverse());
  return {type:'polygon',shape:{points:pts},style:{fill:'#bcbcbc'}};}});
revTicks.forEach(t=>gridLine(3,Math.abs(t)===7||Math.abs(t)===1?-3.15:-2.82,16.05,t,3));
series.push({type:'line',xAxisIndex:3,yAxisIndex:3,data:eRev.map((r,i)=>[eMean[i],r]),symbol:'none',clip:false,z:4,lineStyle:{color:'#111',width:1.6}});
// B traces
const trials=[[trial1Lead,trial1,C_OLIVE],[trial2Lead,trial2,C_YELLOW],[trial3Lead,trial3,C_MAGENTA],[trial4Lead,trial4,C_NAVY],[trial5Lead,trial5,C_GREEN],[trial6Lead,trial6,C_SKY]];
trials.forEach(([lead])=>series.push({type:'line',xAxisIndex:0,yAxisIndex:0,data:lead,symbol:'none',z:3,lineStyle:{color:'#333',width:1}}));
trials.forEach(([lead,trace,col])=>series.push({type:'line',xAxisIndex:0,yAxisIndex:0,data:[lead[lead.length-1]].concat(trace),symbol:'none',z:4,lineStyle:{color:col,width:1.9}}));
series.push({type:'line',xAxisIndex:0,yAxisIndex:0,data:scaleBar,symbol:'none',z:4,lineStyle:{color:'#333',width:2}});
// C
series.push({type:'line',xAxisIndex:1,yAxisIndex:1,data:transitC,symbol:'none',clip:false,z:5,lineStyle:{color:'#1a1a1a',width:1.7}});
// F
series.push({type:'custom',xAxisIndex:4,yAxisIndex:4,data:[0],z:2,silent:true,
 renderItem(p,api){const pts=fUpper.map(d=>api.coord(d)).concat(fLower.map(d=>api.coord(d)).reverse());
  return {type:'polygon',shape:{points:pts},style:{fill:'#bcbcbc'}};}});
series.push({type:'line',xAxisIndex:4,yAxisIndex:4,data:[[0,.32],[0,-.028]],symbol:'none',clip:false,z:3,lineStyle:{color:'#333',width:2,type:[15,8]}});
series.push({type:'line',xAxisIndex:4,yAxisIndex:4,data:fMean,symbol:'none',smooth:.3,clip:false,z:4,lineStyle:{color:'#1a1a1a',width:1.9}});
// G
gFlies.forEach(f=>series.push({type:'line',xAxisIndex:5,yAxisIndex:5,data:f,symbol:'none',z:3,lineStyle:{color:'#222',width:1.6}}));

const tickFont={fontFamily:FONT,fontSize:21,color:INK};
const hiddenX=(min,max,g)=>({type:'value',gridIndex:g,min,max,show:false});
const hiddenY=(g)=>({type:'value',gridIndex:g,min:-7,max:7,show:false});
const solid=(c)=>({show:true,onZero:false,lineStyle:{color:c,width:2}});
const inTick=(c)=>({show:true,inside:true,length:11,lineStyle:{color:c,width:2}});
const xAxes=[hiddenX(-132,3837,0),
 {type:'value',gridIndex:1,min:0,max:3,interval:3,offset:20,axisLine:solid('#222'),axisTick:inTick('#222'),splitLine:{show:false},axisLabel:{...tickFont,margin:8}},
 hiddenX(.21,195,2),
 {type:'value',gridIndex:3,min:0,max:16,interval:8,offset:22,axisLine:solid('#333'),axisTick:inTick('#333'),splitLine:{show:false},axisLabel:{...tickFont,margin:6}},
 {type:'value',gridIndex:4,min:-Math.PI,max:Math.PI,interval:Math.PI,offset:22,axisLine:solid('#222'),axisTick:inTick('#222'),splitLine:{show:false},axisLabel:{...tickFont,margin:7,formatter:v=>v<-1?'-π':v>1?'π':'0'}},
 {type:'category',gridIndex:5,data:gCategories,boundaryGap:false,axisLine:{show:false},axisTick:{show:false},splitLine:{show:false},axisLabel:{...tickFont,interval:0,margin:13,lineHeight:26.5}},
 hiddenX(0,1,6)];
const leftLine={show:true,onZero:false,lineStyle:{color:'#888',width:2}};
const yAxes=[{type:'value',gridIndex:0,min:-7,max:7,interval:1,axisLine:leftLine,axisTick:{show:false},axisLabel:{show:false},splitLine:{show:false}},
 hiddenY(1),
 {type:'value',gridIndex:2,min:-7,max:7,interval:1,axisLine:leftLine,axisTick:{show:false},splitLine:{show:false},axisLabel:{...tickFont,margin:8}},
 hiddenY(3),
 {type:'value',gridIndex:4,min:0,max:.32,interval:.16,offset:21,axisLine:solid('#222'),axisTick:inTick('#222'),splitLine:{show:false},axisLabel:{...tickFont,margin:7}},
 {type:'value',gridIndex:5,min:0,max:20,interval:10,offset:22,axisLine:solid('#333'),axisTick:inTick('#333'),splitLine:{show:false},axisLabel:{...tickFont,margin:7}},
 {type:'value',gridIndex:6,min:-7,max:7,interval:1,axisLine:{show:false},axisTick:{show:false},splitLine:{show:false},axisLabel:{...tickFont,margin:7}}];

function T(x,y,text,o={}){return {type:'text',x,y,rotation:o.rot||0,z:20,style:{text,fontFamily:FONT,fontSize:o.size||21.5,fontWeight:o.bold?'bold':'normal',fill:o.fill||INK,textAlign:o.align||'center',textVerticalAlign:'middle'}};}
function ring(cx,cy){return [
 {type:'circle',z:5,shape:{cx,cy,r:135},style:{fill:'none',stroke:'#111',lineWidth:1.7}},
 {type:'circle',z:5,shape:{cx,cy,r:94},style:{fill:'none',stroke:'#111',lineWidth:1.7}}];}
function box(x,y,w,h,filled){return {type:'rect',z:6,shape:{x,y,width:w,height:h},style:{fill:filled?C_RED:'#fff',stroke:C_RED,lineWidth:filled?0:1.6}};}
const R=21,rich=c=>({fontFamily:FONT,fontSize:R,fill:c,fontWeight:'normal'});
const L=43;
const graphics=[...ring(206.7,165),...ring(206.7,456),
 box(74,148.7,36.7,31.5,false),box(301,148,39,32,true),box(73,440,38,32,true),box(301.7,440.6,37.5,31,false),
 T(206.7,150,'Trial',{size:21}),
 {type:'text',x:206.7,y:175,z:20,style:{text:'{k|# }{a|1}{k|,}{b|3}{k|,}{c|5}',textAlign:'center',textVerticalAlign:'middle',rich:{k:rich(INK),a:rich(C_OLIVE),b:rich(C_MAGENTA),c:rich(C_GREEN)}}},
 T(206.7,441,'Trial',{size:21}),
 {type:'text',x:206.7,y:466,z:20,style:{text:'{k|# }{a|2}{k|,}{b|4}{k|,}{c|6}',textAlign:'center',textVerticalAlign:'middle',rich:{k:rich(INK),a:rich(C_YELLOW),b:rich(C_NAVY),c:rich(C_SKY)}}},
 T(99.5,280.5,'5 mm',{size:20}),{type:'rect',shape:{x:72,y:297.5,width:55.5,height:3},style:{fill:'#222'}},
 T(99.5,317.5,'2 body lengths',{size:20.3}),
 {type:'rect',shape:{x:97,y:603,width:20,height:13},style:{fill:C_RED}},
 T(121,608,'activation zone',{align:'left',fill:'#ee2a2f',size:21.7}),T(121,632,'disabled activation zone',{align:'left',size:21.7}),T(121,656.5,'control zone',{align:'left',size:21.7}),
 T(21,21,'A',{size:L,bold:true}),T(397,21,'B',{size:L,bold:true}),T(1487,24,'C',{size:L,bold:true}),T(25,715,'D',{size:L,bold:true}),T(988,719,'E',{size:L,bold:true}),T(1338,718,'F',{size:L,bold:true}),T(1342,1080,'G',{size:L,bold:true}),
 T(415,344,'position (revolutions)',{rot:Math.PI/2}),T(629,579,'1 min',{size:21.5}),
 T(1643,685,'transit frequency x100'),
 T(25,1053,'position (revolutions)',{rot:Math.PI/2}),
 T(669,1396,'0'),T(800,1396,'transit frequency'),T(931,1396,'0.03'),
 T(1160,1407,'transit frequency x1000'),
 T(1351,862,'kernel density estimate',{rot:Math.PI/2}),T(1613,1053,'wrapped run midpoint (radians)',{size:22.4}),
 T(1353,1226,'number of run midpoints',{rot:Math.PI/2}),T(1379,1222,'in quadrant',{rot:Math.PI/2})];

const chart=echarts.init(document.getElementById('c'),null,{renderer:'canvas'});
chart.setOption({animation:false,backgroundColor:'#fff',textStyle:{fontFamily:FONT},
 grid:[{left:464,top:42.1,width:1323,height:597.2},{left:1504,top:42.1,width:284.7,height:597.2},{left:72.7,top:750.9,width:887.3,height:603.3},{left:1016.7,top:750.9,width:287.6,height:603.3},{left:1435,top:735.7,width:354.3,height:251.3},{left:1440,top:1093,width:323,height:239},{left:464,top:39,width:10,height:605}],
 xAxis:xAxes,yAxis:yAxes,
 visualMap:{type:'continuous',seriesIndex:15,dimension:3,min:0,max:.03,orient:'horizontal',left:677,top:1361,itemWidth:23,itemHeight:256,padding:0,calculable:false,hoverLink:false,text:null,showLabel:false,inRange:{color:['#ffffff','#000000']},textStyle:{color:'transparent',fontSize:1}},
 graphic:graphics,series});
</script></body></html>
